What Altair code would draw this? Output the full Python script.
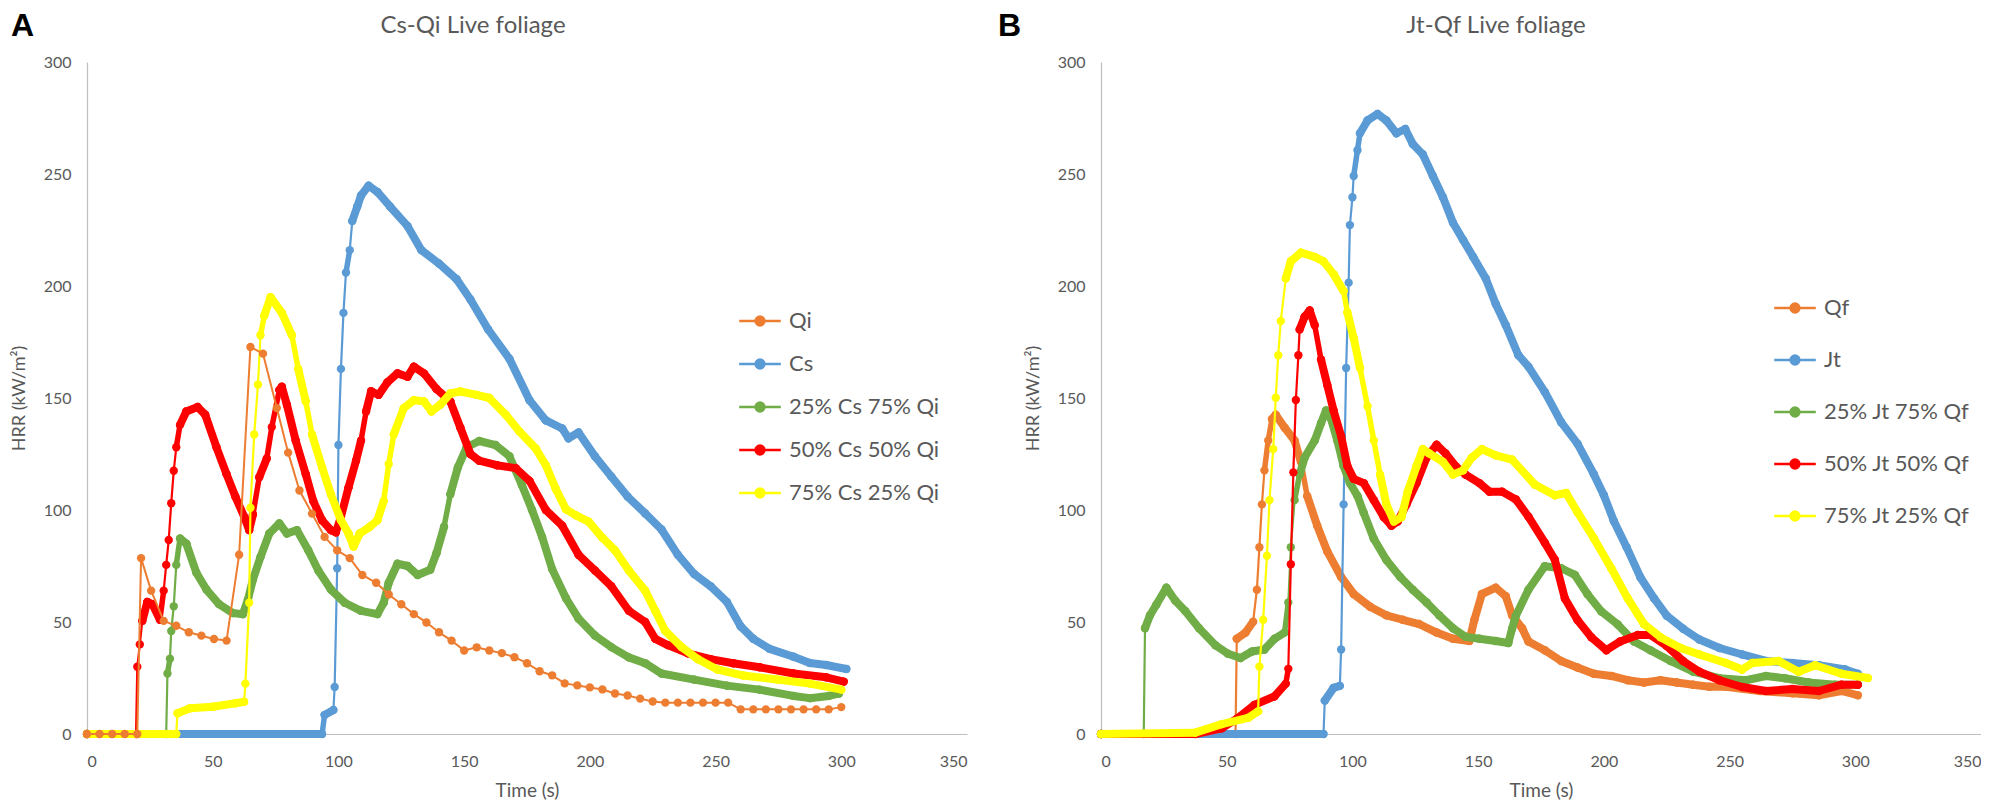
import altair as alt
import pandas as pd

# ---------------- Panel A: Cs-Qi Live foliage ----------------
series_a = ["Qi", "Cs", "25% Cs 75% Qi", "50% Cs 50% Qi", "75% Cs 25% Qi"]

qi_t = [0, 5, 10, 15, 20, 21.5, 25.5, 30.5, 35.5, 40.5, 45.5, 50.5, 55.5, 60.5, 65, 70, 75.5, 80, 84.5, 89.5,
        94.5, 99.5, 104.5, 109.5, 115, 120, 125, 130, 135, 140, 145, 150, 155, 160,
        165, 170, 175, 180, 185, 190, 195, 200, 205, 210, 215, 220, 225, 230, 235, 240, 245, 250, 255,
        260, 265, 270, 275, 280, 285, 290, 295, 300]
qi_v = [0, 0, 0, 0, 0, 78.5, 64, 50.5, 48.3, 45.4, 43.9, 42.4, 41.7, 80, 172.8, 169.8, 145.5, 125.6, 108.7, 98.4,
        88, 82, 78.5, 71, 67.5, 62.3, 57.9, 53.5, 49.8, 45.4, 41.7, 37.3, 38.7, 37.3,
        36.1, 34.3, 31.6, 28, 26.2, 22.6, 21.7, 20.8, 19.9, 18.1, 17.2, 15.8, 14.5, 14, 14, 14, 14, 14, 14,
        11, 11, 11, 11, 11, 11, 11, 11, 12]

cs_t = [0, 93.5, 94.5, 98, 98.5, 99.5, 100, 101, 102, 103, 104.5, 105.5, 107.5, 109, 112, 115.5, 120.5, 127.5,
        133, 140, 147, 152.5, 159.5, 168, 176, 182.5, 189, 191.5, 195.5, 202, 208.5, 215, 222, 228.5, 235,
        241.5, 248, 254.5, 260, 265, 271.5, 281, 287.5, 294, 302]
cs_v = [0, 0, 8.5, 10.7, 21, 74, 129, 163, 188, 206, 216, 229, 235.5, 240.4, 244.8, 242, 235.5, 226.7,
        216, 210, 203, 194, 180.7, 167.5, 149, 140, 136.4, 132, 134.6, 124, 115, 106, 98.5, 91.3, 80,
        71.4, 66, 59, 48, 42.5, 38, 34.5, 31.7, 30.8, 29]

a25_t = [0, 31.5, 32, 33, 33.5, 34.5, 35.5, 37, 39.5, 43.5, 47.5, 52.5, 58, 62, 64, 66, 69, 72.5, 76.5, 79.5,
         83.5, 88, 92, 97, 102.5, 109, 115.5, 118, 120, 123.5, 127.5, 131.5, 136.5, 139, 142, 144.5, 147.5,
         151, 156, 162.5, 168, 173, 177, 181, 185, 190.5, 195.5, 202, 208.5, 215.5, 222, 228.5, 241.5,
         254.5, 267.5, 281, 287.5, 295, 299]
a25_v = [0, 0, 27, 33.6, 46, 57, 75.5, 87.3, 85, 72, 64.5, 58, 54, 53.5, 60, 69, 79, 89.5, 94, 89.5,
         91, 82, 73, 64.5, 58.6, 55, 53.5, 58.6, 67.5, 76, 75, 71, 73.3, 80.7, 92.5, 107, 119,
         128, 130.8, 129, 124, 111, 100, 88, 73.6, 60.6, 51.5, 44, 38.8, 34.2, 31.6, 27, 24.3,
         21.6, 19.8, 17, 16, 17, 18]

a50_t = [0, 19.5, 20, 21, 22, 24, 26, 29, 30.5, 31.5, 32.5, 33.5, 34.5, 35.5, 37, 39.5, 44, 47, 51.5, 55.5,
         59, 62.5, 64.5, 66, 68.5, 71.5, 73.5, 76.5, 77.5, 79.5, 83, 87, 90, 93.5, 97, 99, 101, 104, 107, 109,
         111, 113, 116, 119.5, 123.5, 127.5, 130, 134, 139, 144.5, 148.5, 152.5, 156, 163, 170.5, 176,
         182.5, 189, 195.5, 202, 208.5, 215.5, 222, 226, 231, 239, 248, 257, 267.5, 281, 294, 301]
a50_v = [0, 0, 30, 40, 50.5, 59, 58, 51, 64, 75.5, 86.6, 103, 117.5, 128, 138, 144, 146, 142.6, 128, 116,
         106, 97, 91, 98, 114.6, 123, 137, 153.6, 155, 147, 131, 116, 104, 95.4, 91, 90, 97, 110, 122, 131,
         144, 153, 151.4, 157, 161, 159.5, 164, 161, 154, 148.5, 136.7, 125, 122, 120, 118.7, 113,
         100, 93, 80, 73, 66, 55, 50, 42.5, 39.7, 36, 33.4, 31.6, 29.8, 27, 25.3, 23.4]

a75_t = [0, 35.5, 36, 41, 50, 59, 62.5, 63, 64.5, 65, 66.5, 68, 69, 70.5, 73, 77.5, 81.5, 84, 87, 89.5,
         93.5, 97, 101, 104, 106, 108.5, 112.5, 115.5, 118, 120, 122, 126, 130, 134, 137, 140.5, 144.5,
         148.5, 155, 160, 166.5, 172, 178.5, 182.5, 186.5, 190.5, 194.5, 199.5, 205, 210, 215.5, 222,
         226, 230, 236.5, 243, 250.5, 261, 274.5, 287.5, 300]
a75_v = [0, 0, 9.3, 11.5, 12.2, 13.7, 14.4, 22.5, 58.6, 101, 133.7, 156, 178, 186.7, 195, 188, 178, 163, 148.5, 133.7,
         119, 107, 95.4, 89.5, 83.7, 89.5, 92.5, 95.4, 104, 120.5, 133.7, 145.5, 149, 148.5, 144, 147, 152,
         152.9, 151.4, 150, 142.6, 135, 127.4, 120, 109.3, 100.3, 97.6, 94.8, 87.6, 82, 73, 64,
         55, 46, 38.8, 33.4, 28.9, 26.1, 24.3, 22.5, 19.8]

# ---------------- Panel B: Jt-Qf Live foliage ----------------
series_b = ["Qf", "Jt", "25% Jt 75% Qf", "50% Jt 50% Qf", "75% Jt 25% Qf"]

qf_t = [0, 53.5, 54, 57.5, 60.5, 62, 63, 64, 65, 66.5, 68, 69.5, 73, 77, 79.5, 82, 86, 90, 95.5, 100.5,
        107, 113.5, 120, 126.5, 133.5, 140, 146.5, 148.5, 151.5, 157, 161, 163.5, 167.5, 170, 176.5, 183,
        189.5, 196, 203, 209.5, 216, 222.5, 229, 235.5, 242, 248.5, 262, 275, 285.5, 294.5, 301]
qf_v = [0, 0, 42.5, 45.3, 50.1, 64.4, 83.4, 102.5, 117.7, 131, 140.6, 142.5, 136.8, 131, 121.5, 106.3, 93, 81.5, 70.1, 62.5,
        56.8, 53, 51, 49.1, 45.3, 42.5, 41.5, 51, 62.5, 65.3, 61.5, 53, 47.2, 41.3, 37.4, 32.6,
        29.7, 26.9, 25.9, 24, 23, 24, 23, 22, 21.1, 21.1, 19.2, 18.2, 17.3, 19.2, 17.3]

jt_t = [0, 88.5, 89, 92.5, 95, 95.5, 96.5, 97.5, 98.5, 99, 100, 100.5, 102, 103, 106, 110, 113.5, 117.5, 121, 124,
        128, 132, 136, 140, 144, 148, 153, 157, 161, 166, 170, 176.5, 183, 189.5, 196, 200, 204, 209, 214.5, 220,
        225, 231.5, 238, 246, 255, 264.5, 275, 285.5, 296, 301]
jt_v = [0, 0, 14.9, 20.6, 21.5, 37.7, 102.5, 163.4, 201.5, 227.2, 239.6, 249.1, 260.6, 268.2, 273.9, 276.8, 273.9, 268.2, 270.1, 263.4,
        258.7, 249.1, 239.6, 228.2, 220.6, 213, 203.4, 192, 182.5, 169.1, 164, 152.7, 139.2, 129.6, 116, 106.6, 95, 83.5, 70, 60.5,
        52.8, 47, 42.2, 38.4, 35.5, 32.6, 31.7, 30.7, 28.8, 26.9]

b25_t = [0, 17, 17.5, 19.5, 22, 26, 29.5, 33.5, 39, 45.5, 50.5, 55.5, 60, 65, 69, 73, 74.5, 75.5, 77, 79,
         81, 85, 87.5, 89.5, 91.5, 94, 96.5, 99, 102, 104.5, 108.5, 113.5, 119, 124, 129.5, 134.5, 140, 145, 150.5, 157,
         162, 163.5, 165, 170, 176.5, 183, 188.5, 193.5, 199, 205.5, 212, 218.5, 226.5, 235.5, 246, 256.5, 264.5, 272,
         281.5, 292, 301]
b25_v = [0, 0, 47.2, 53, 57.7, 65.3, 59.6, 54.9, 47.2, 39.6, 35.8, 33.9, 36.8, 37.7, 42.5, 45.3, 58.7, 83.4, 104.4, 115.8,
         123.4, 131, 138.7, 144.4, 140.6, 131, 119.6, 112, 106.3, 98.7, 87.2, 77.7, 70.1, 64.4, 58.7, 53, 47.2, 43.4, 42.5, 41.5,
         40.6, 47, 52.8, 64.4, 74.9, 74, 71, 62.4, 54.7, 48.9, 41.3, 37.4, 32.6, 27.8, 24.9, 24, 25.9, 24.9,
         23, 22, 22]

b50_t = [0, 37.5, 48, 54.5, 61, 69, 73.5, 74.5, 75.5, 76.5, 77.5, 78.5, 79, 81, 83, 85, 87.5, 90, 92.5, 95.5,
         98, 100.5, 104.5, 108.5, 112.5, 115.5, 118, 121.5, 125.5, 129.5, 133.5, 137, 141, 145, 150.5, 154.5, 159.5, 165, 170, 176.5,
         180.5, 184.5, 189.5, 195, 201, 206.5, 213.5, 218.5, 225, 231.5, 238, 246, 255, 264.5, 275, 285.5, 294.5, 301]
b50_v = [0, 0, 2.5, 7.2, 13, 16.8, 22.5, 29.1, 75.8, 116.8, 149.1, 169.1, 180.6, 186.3, 189.1, 182.5, 167.2, 155.8, 144.4, 133,
         119.6, 113.9, 112, 104.4, 96.8, 93, 94.9, 102.5, 112, 123.4, 129.1, 125.3, 119.6, 115.8, 112, 108.2, 108.2, 104.7, 97, 85.4,
         77.8, 60.5, 50.9, 43.2, 37.4, 41.3, 44.2, 44.2, 39.3, 32.6, 27.8, 24, 21, 19.2, 20.1, 19.2, 22, 22]

b75_t = [0, 37.5, 48, 58.5, 62.5, 63, 64.5, 66, 67, 68.5, 69.5, 70.5, 71.5, 73.5, 75.5, 79.5, 85, 88.5, 92.5, 96.5,
         98, 100.5, 103, 106, 108.5, 111, 113.5, 116.5, 119.5, 122, 125.5, 128, 130.5, 136, 140, 144, 147.5, 151.5, 157, 163.5,
         172.5, 180.5, 185, 189.5, 196, 203, 209.5, 216, 222.5, 230.5, 238, 248.5, 255, 259, 269.5, 277.5, 284, 294.5, 305]
b75_v = [0, 0.6, 4.4, 7.2, 10.1, 30.1, 51, 79.6, 104.4, 127.2, 150.1, 169.1, 184.4, 203.4, 211, 214.9, 213, 211, 205.3, 197.7,
         188.2, 176.8, 163.4, 146.3, 131, 115.8, 102.5, 94.9, 96.8, 108.2, 119.6, 127.2, 125.3, 121.5, 115.8, 117.7, 123.4, 127.2, 124.4, 122.5,
         111.4, 106.6, 107.6, 99, 87.4, 73.9, 60.5, 49, 43.2, 38.4, 35.5, 31.7, 28.8, 31.7, 32.6, 27.8, 30.7, 26.9, 25]

x_ticks = [0, 50, 100, 150, 200, 250, 300, 350]
y_ticks = [0, 50, 100, 150, 200, 250, 300]
colors = ["#ED7D31", "#5B9BD5", "#70AD47", "#FF0000", "#FFFF00"]

FONT = "Lato"
GREY = "#595959"
LEGEND_SYMBOL = ("M-2.6,0L2.6,0M-0.55,0A0.55,0.55,0,1,0,0.55,0"
                 "A0.55,0.55,0,1,0,-0.55,0Z")


def frame(names, ts, vs):
    rows = []
    for name, t_list, v_list in zip(names, ts, vs):
        for i, (t, v) in enumerate(zip(t_list, v_list)):
            rows.append({"series": name, "t": t, "v": v, "idx": i})
    return pd.DataFrame(rows)


def panel(names, ts, vs, draw_order, sparse, letter, letter_x, title, title_x,
          legend_x, legend_y, row_pad):
    df = frame(names, ts, vs)
    color = alt.Color(
        "series:N",
        scale=alt.Scale(domain=names, range=colors),
        legend=alt.Legend(
            orient="none", legendX=legend_x, legendY=legend_y, title=None,
            labelFont=FONT, labelFontSize=22, labelColor=GREY,
            symbolType=LEGEND_SYMBOL, symbolSize=256, symbolStrokeWidth=2.5,
            labelOffset=18, rowPadding=row_pad, padding=0,
        ),
    )
    x = alt.X("t:Q", scale=alt.Scale(domain=[0, 350], nice=False),
              axis=alt.Axis(values=x_ticks, title="Time (s)", labelPadding=19,
                            titlePadding=12, titleFontSize=19))
    y = alt.Y("v:Q", scale=alt.Scale(domain=[0, 300], nice=False),
              axis=alt.Axis(values=y_ticks, title="HRR (kW/m²)", labelPadding=16,
                            titlePadding=15, titleFontSize=18))
    layers = []
    for name in draw_order:
        base = alt.Chart(df).transform_filter(alt.datum.series == name)
        if name in sparse:
            layers.append(
                base.mark_line(strokeWidth=2, strokeJoin="round")
                .encode(x=x, y=y, color=color, order="idx:Q")
            )
        else:
            # dense 1-Hz series: markers merge into a thick band where the curve is
            # flat, and separate into dots on a thin line where it is steep
            seg = (
                base.transform_window(t2="lead(t)", v2="lead(v)",
                                      sort=[alt.SortField("idx")])
                .transform_filter("isValid(datum.t2)")
                .transform_calculate(
                    s="abs((datum.v2 - datum.v) / max(datum.t2 - datum.t, 0.01))"
                )
                .transform_calculate(w="datum.s > 9 ? 2.2 : (datum.s > 5.5 ? 5.5 : 8)")
            )
            layers.append(
                seg.mark_rule(strokeCap="round")
                .encode(x=x, y=y, x2="t2:Q", y2="v2:Q", color=color,
                        strokeWidth=alt.StrokeWidth("w:Q", scale=None, legend=None))
            )
        layers.append(
            base.mark_point(filled=True, size=70, opacity=1)
            .encode(x=x, y=y, color=color)
        )
    lab = alt.Chart(pd.DataFrame({"label": [letter]})).mark_text(
        align="left", baseline="alphabetic", font="Liberation Sans",
        fontSize=32, fontWeight="bold", color="black"
    ).encode(x=alt.value(letter_x), y=alt.value(-26), text="label:N")
    ttl = alt.Chart(pd.DataFrame({"label": [title]})).mark_text(
        align="center", baseline="alphabetic", font=FONT,
        fontSize=24, fontWeight="normal", color=GREY
    ).encode(x=alt.value(title_x), y=alt.value(-29), text="label:N")
    layers += [lab, ttl]
    return alt.layer(*layers).properties(width=880, height=672)


chart_a = panel(series_a, [qi_t, cs_t, a25_t, a50_t, a75_t], [qi_v, cs_v, a25_v, a50_v, a75_v],
                ["Cs", "25% Cs 75% Qi", "50% Cs 50% Qi", "75% Cs 25% Qi", "Qi"], ["Qi"],
                "A", -76, "Cs-Qi Live foliage", 386, 662, 248, 21)
chart_b = panel(series_b, [qf_t, jt_t, b25_t, b50_t, b75_t], [qf_v, jt_v, b25_v, b50_v, b75_v],
                ["Qf", "Jt", "25% Jt 75% Qf", "50% Jt 50% Qf", "75% Jt 25% Qf"], [],
                "B", -103, "Jt-Qf Live foliage", 395, 683, 235, 30)

chart = (
    alt.hconcat(chart_a, chart_b, spacing=134, bounds="flush")
    .resolve_scale(color="independent")
    .properties(padding={"left": 2, "right": 0, "top": 2, "bottom": 0})
    .configure_view(stroke=None)
    .configure_axis(grid=False, ticks=False, tickSize=0, domainColor="#BFBFBF",
                    domainWidth=1.2, labelFont=FONT, labelFontSize=16, labelColor=GREY,
                    titleFont=FONT, titleColor=GREY, titleFontWeight="normal")
)

chart.save("out.html", embed_options={"renderer": "svg", "actions": False})
